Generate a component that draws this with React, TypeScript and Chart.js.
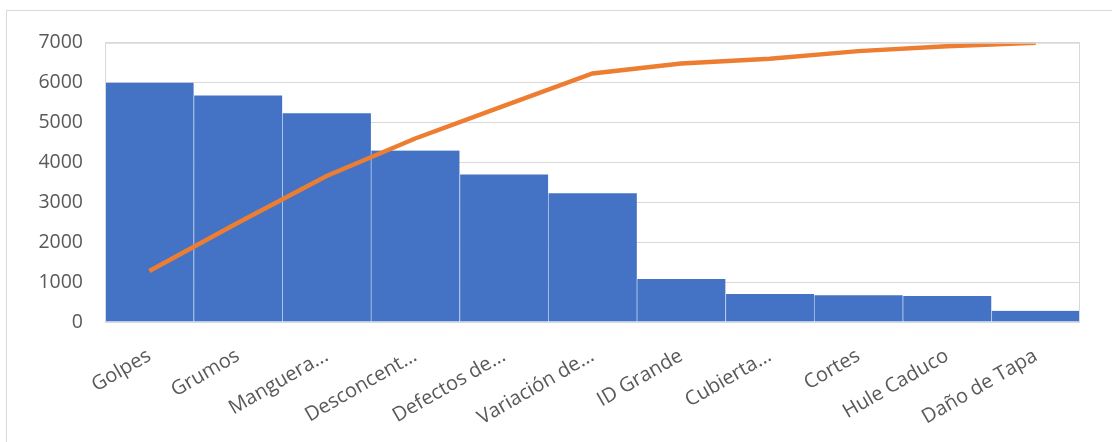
import React, { useEffect, useRef } from "react";
import { Chart, registerables } from "chart.js";

Chart.register(...registerables);

const categories = [
  "Golpes",
  "Grumos",
  "Manguera...",
  "Desconcent...",
  "Defectos de...",
  "Variación de...",
  "ID Grande",
  "Cubierta...",
  "Cortes",
  "Hule Caduco",
  "Daño de Tapa",
];
const barValues = [6000, 5680, 5230, 4300, 3700, 3230, 1080, 700, 670, 650, 280];
const lineValues = [1280, 2490, 3660, 4600, 5420, 6230, 6480, 6600, 6790, 6910, 7000];
const yTicks = [0, 1000, 2000, 3000, 4000, 5000, 6000, 7000];

const plotBorder = {
  id: "plotBorder",
  afterDatasetsDraw(chart: any) {
    const { ctx, chartArea } = chart;
    ctx.save();
    ctx.strokeStyle = "#d9d9d9";
    ctx.lineWidth = 1;
    ctx.strokeRect(chartArea.left + 0.5, chartArea.top + 0.5, chartArea.right - chartArea.left - 1, chartArea.bottom - chartArea.top);
    ctx.restore();
  },
};

export default function App() {
  const ref = useRef<HTMLCanvasElement | null>(null);
  useEffect(() => {
    if (!ref.current) return;
    const chart = new Chart(ref.current, {
      data: {
        labels: categories,
        datasets: [
          {
            type: "line",
            data: lineValues,
            borderColor: "#ED7D31",
            borderWidth: 4.5,
            pointRadius: 0,
            tension: 0,
            order: 0,
          } as any,
          {
            type: "bar",
            data: barValues,
            backgroundColor: "#4472C4",
            borderColor: "rgba(170,195,240,0.9)",
            borderWidth: { left: 1, right: 0, top: 0, bottom: 0 },
            borderSkipped: false,
            categoryPercentage: 1,
            barPercentage: 1,
            order: 1,
          } as any,
        ],
      },
      options: {
        animation: false,
        responsive: true,
        maintainAspectRatio: false,
        layout: { padding: { top: 16, right: 33, left: 0, bottom: 0 } },
        plugins: { legend: { display: false }, tooltip: { enabled: false } },
        scales: {
          x: {
            grid: { display: false, drawTicks: false },
            border: { display: false },
            ticks: {
              color: "#595959",
              font: { family: "'Open Sans'", size: 20 },
              minRotation: 30,
              maxRotation: 30,
              padding: 22,
              autoSkip: false,
            },
            afterFit(scale: any) {
              scale.height = 121;
            },
          },
          y: {
            min: 0,
            max: 7000,
            afterBuildTicks(scale: any) {
              scale.ticks = yTicks.map((v) => ({ value: v }));
            },
            grid: { color: "#d9d9d9", lineWidth: 1, drawTicks: false },
            border: { display: false },
            ticks: {
              color: "#595959",
              font: { family: "'Open Sans'", size: 19.5, lineHeight: 1 },
              padding: 22,
              callback: (v: any) => String(v),
            },
            afterFit(scale: any) {
              scale.width = 98;
            },
          },
        },
      },
      plugins: [plotBorder],
    } as any);
    return () => chart.destroy();
  }, []);
  return (
    <div
      style={{
        position: "absolute",
        left: 6,
        top: 10,
        width: 1106,
        height: 432,
        borderTop: "1px solid #d9d9d9",
        borderLeft: "1px solid #d9d9d9",
        background: "#fff",
      }}
    >
      <canvas ref={ref} />
    </div>
  );
}
